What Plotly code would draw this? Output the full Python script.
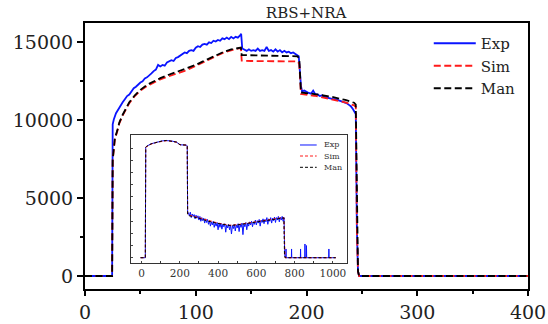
import plotly.graph_objects as go

# ---------------- main panel data ----------------
exp_x = [0, 24.5, 25, 26, 28, 30, 32, 34, 36, 38, 40, 42, 44, 46, 48, 50, 52, 54, 56, 58, 60,
         62, 64, 66, 68, 70, 72, 74, 76, 78, 80, 82, 84, 86, 88, 90, 92, 94, 96, 98, 100,
         102, 104, 106, 108, 110, 112, 114, 116, 118, 120, 122, 124, 126, 128, 130, 132, 134,
         136, 138, 140, 141, 142, 144, 146, 148, 150, 152, 154, 156, 158, 160, 162, 164, 166,
         168, 170, 172, 174, 176, 178, 180, 182, 184, 186, 188, 190, 192, 193, 195, 196, 198,
         200, 202, 204, 206, 208, 210, 212, 214, 216, 218, 220, 222, 224, 226, 228, 230, 232,
         234, 236, 238, 240, 242, 243.5, 244.5, 245.5, 246.5, 247.5, 400]
exp_y = [0, 0, 9740, 10050, 10450, 10700, 10900, 11150, 11350, 11550, 11650, 11850, 12050,
         12150, 12300, 12420, 12500, 12680, 12750, 12850, 13000, 13150, 13250, 13550, 13450,
         13550, 13500, 13700, 13750, 13850, 13800, 14000, 14050, 14150, 14250, 14350, 14300,
         14450, 14500, 14450, 14650, 14750, 14700, 14850, 14900, 14850, 15000, 14950, 15100,
         15050, 15150, 15100, 15250, 15200, 15300, 15200, 15350, 15250, 15350, 15300, 15450,
         15540, 14600, 14500, 14450, 14550, 14450, 14500, 14450, 14600, 14450, 14500, 14450,
         14700, 14450, 14500, 14400, 14550, 14400, 14500, 14350, 14450, 14350, 14400, 14300,
         14350, 14250, 14200, 14100, 12200, 11850, 11900, 11800, 11750, 11700, 11900, 11650,
         11650, 11550, 11600, 11500, 11450, 11450, 11400, 11350, 11350, 11300, 11250, 11250,
         11150, 11100, 11000, 10900, 10700, 10500, 10400, 3000, 300, 0, 0]

sim_x = [0, 24.5, 25, 26, 27, 29, 31, 34, 37, 40, 45, 50, 56, 62, 68, 75, 82, 90, 100, 106,
         113, 120, 126, 132, 138, 140.8, 141.5, 150, 170, 192, 193.5, 195, 207, 223, 235, 243,
         244.5, 245.5, 246.5, 247.5, 400]
sim_y = [0, 0, 7400, 8300, 8800, 9250, 9800, 10300, 10750, 11100, 11550, 11900, 12200, 12430,
         12620, 12800, 12980, 13170, 13480, 13700, 13930, 14170, 14370, 14500, 14600, 14620,
         13820, 13800, 13790, 13770, 13600, 11680, 11570, 11350, 11150, 10950, 10850, 3000,
         300, 0, 0]

man_x = sim_x
man_y = [0, 0, 7450, 8350, 8850, 9300, 9850, 10350, 10800, 11150, 11600, 11950, 12270, 12500,
         12700, 12900, 13080, 13270, 13550, 13760, 13980, 14220, 14410, 14540, 14640, 14660,
         14180, 14170, 14140, 14100, 13900, 11780, 11680, 11500, 11300, 11120, 11000, 3000,
         300, 0, 0]

# ---------------- inset data (arbitrary units) ----------------
in_sim_x = [-5, 20, 22, 27, 50, 80, 110, 131, 160, 184, 195, 201, 236, 239, 241, 250, 300, 350,
            400, 450, 462, 500, 550, 600, 650, 700, 732, 744, 747, 750, 1015]
in_sim_y = [0, 0, 9.1, 9.15, 9.35, 9.5, 9.6, 9.63, 9.58, 9.5, 9.35, 9.3, 9.27, 9.2, 3.6, 3.5,
            3.3, 3.05, 2.85, 2.7, 2.67, 2.72, 2.85, 3.0, 3.12, 3.22, 3.29, 3.3, 0.3, 0.0, 0]
in_man_x = in_sim_x
in_man_y = [0, 0, 9.1, 9.17, 9.37, 9.52, 9.62, 9.65, 9.6, 9.52, 9.37, 9.3, 9.27, 9.2, 3.55,
            3.45, 3.25, 3.0, 2.82, 2.68, 2.65, 2.7, 2.82, 2.97, 3.1, 3.2, 3.27, 3.28, 0.3, 0.0, 0]

in_exp_x = [-5, 20, 22, 27, 50, 80, 110, 131, 160, 184, 195, 201, 236, 239, 241,
            245, 250, 255, 260, 265, 270, 275, 280, 285, 290, 295, 300, 305, 310, 315, 320,
            325, 330, 335, 340, 345, 350, 355, 360, 365, 370, 375, 380, 385, 390, 395, 400,
            405, 410, 415, 420, 425, 430, 435, 440, 445, 450, 455, 460, 465, 470, 475, 480,
            485, 490, 495, 500, 505, 510, 515, 520, 525, 530, 535, 540, 545, 550, 555, 560,
            565, 570, 575, 580, 585, 590, 595, 600, 605, 610, 615, 620, 625, 630, 635, 640,
            645, 650, 655, 660, 665, 670, 675, 680, 685, 690, 695, 700, 705, 710, 715, 720,
            725, 730, 735, 740, 745, 748, 752,
            754, 755, 756, 783, 784, 785, 830, 831, 832, 853, 854, 855, 861, 862, 863,
            978, 979, 980, 1015]
in_exp_y = [0, 0, 9.1, 9.17, 9.38, 9.5, 9.62, 9.64, 9.6, 9.5, 9.36, 9.3, 9.26, 9.2, 3.7,
            3.7, 3.45, 3.75, 3.3, 3.6, 3.4, 3.55, 3.2, 3.5, 3.25, 3.45, 3.1, 3.4, 3.0, 3.3, 3.05,
            3.25, 2.85, 3.2, 2.9, 3.15, 2.75, 3.05, 2.6, 2.95, 2.7, 3.0, 2.5, 2.85, 2.6, 2.9, 2.3,
            2.8, 2.5, 2.85, 2.35, 2.75, 2.55, 2.8, 2.1, 2.7, 2.45, 2.75, 2.3, 2.7, 1.95, 2.65, 2.4,
            2.75, 2.2, 2.7, 2.45, 2.8, 2.15, 2.75, 2.5, 2.85, 1.9, 2.8, 2.55, 2.9, 2.3, 2.85, 2.6,
            2.95, 2.7, 3.0, 2.55, 2.95, 2.75, 3.1, 2.7, 3.05, 2.85, 3.15, 2.6, 3.1, 2.9, 3.2, 2.8,
            3.15, 2.95, 3.3, 2.75, 3.2, 3.0, 3.3, 2.85, 3.25, 3.05, 3.35, 2.9, 3.3, 3.1, 3.4, 2.95,
            3.35, 3.1, 3.4, 3.0, 3.3, 0.2, 0,
            0, 0.72, 0, 0, 0.72, 0, 0, 0.72, 0, 0, 1.13, 0, 0, 1.0, 0,
            0, 0.72, 0, 0]

x_ticks = [0, 100, 200, 300, 400]
y_ticks = [0, 5000, 10000, 15000]
in_x_ticks = [0, 200, 400, 600, 800, 1000]
in_y_ticks = [0, 1, 2, 3, 4, 5, 6, 7, 8, 9]
names = ["Exp", "Sim", "Man"]

BLUE, RED, BLACK = "#0a14ff", "#ff1a1a", "#000000"
FONT = "DejaVu Serif"

fig = go.Figure()
fig.add_trace(go.Scatter(x=exp_x, y=exp_y, mode="lines", name=names[0],
                         line=dict(color=BLUE, width=1.8), xaxis="x", yaxis="y"))
fig.add_trace(go.Scatter(x=sim_x, y=sim_y, mode="lines", name=names[1],
                         line=dict(color=RED, width=1.8, dash="7px,3.5px"), xaxis="x", yaxis="y"))
fig.add_trace(go.Scatter(x=man_x, y=man_y, mode="lines", name=names[2],
                         line=dict(color=BLACK, width=1.8, dash="7px,3.5px"), xaxis="x", yaxis="y"))

fig.add_trace(go.Scatter(x=in_exp_x, y=in_exp_y, mode="lines", showlegend=False,
                         line=dict(color=BLUE, width=1), xaxis="x2", yaxis="y2"))
fig.add_trace(go.Scatter(x=in_sim_x, y=in_sim_y, mode="lines", showlegend=False,
                         line=dict(color=RED, width=1, dash="3px,2px"), xaxis="x2", yaxis="y2"))
fig.add_trace(go.Scatter(x=in_man_x, y=in_man_y, mode="lines", showlegend=False,
                         line=dict(color=BLACK, width=1, dash="3px,2px"), xaxis="x2", yaxis="y2"))

main_axis = dict(showgrid=False, zeroline=False, showline=True, mirror=True,
                 linecolor="black", linewidth=2, ticks="outside", tickwidth=2,
                 tickcolor="black", tickfont=dict(family=FONT, size=19, color="#222"),
                 automargin=False)
fig.update_layout(
    width=548, height=324,
    margin=dict(l=85, r=20, t=23, b=35, autoexpand=False),
    paper_bgcolor="white", plot_bgcolor="white",
    title=dict(text="RBS+NRA", x=0.5585, xanchor="center", y=0.961, yanchor="middle",
               yref="container", font=dict(family=FONT, size=15, color="#222")),
    xaxis=dict(main_axis, range=[0, 400], tickvals=x_ticks,
               ticktext=[str(v) for v in x_ticks], ticklen=5,
               minor=dict(dtick=50, ticklen=3, tickwidth=2, tickcolor="black", ticks="outside")),
    yaxis=dict(main_axis, range=[-834, 16239], tickvals=y_ticks,
               ticktext=[str(v) for v in y_ticks], ticklen=6,
               minor=dict(tickvals=[2500, 7500, 12500], ticklen=3, tickwidth=2,
                          tickcolor="black", ticks="outside")),
    xaxis2=dict(domain=[0.1038, 0.5907], anchor="y2", range=[-55, 1072],
                showgrid=False, zeroline=False, showline=True, mirror=True,
                linecolor="#333", linewidth=1, ticks="inside", ticklen=2, tickwidth=1,
                tickvals=in_x_ticks, ticktext=[str(v) for v in in_x_ticks],
                tickfont=dict(family=FONT, size=10.5, color="#333"),
                minor=dict(tickvals=[100, 300, 500, 700, 900], ticks="inside", ticklen=2,
                           tickwidth=1, tickcolor="#333")),
    yaxis2=dict(domain=[0.0966, 0.5789], anchor="x2", range=[-0.46, 10.1],
                showgrid=False, zeroline=False, showline=True, mirror=True,
                linecolor="#333", linewidth=1, ticks="inside", ticklen=2, tickwidth=1,
                tickvals=in_y_ticks, showticklabels=False),
    legend=dict(x=0.776, y=0.985, xanchor="left", yanchor="top",
                font=dict(family=FONT, size=15, color="#222"), itemwidth=42,
                bgcolor="rgba(0,0,0,0)", borderwidth=0, tracegroupgap=4),
    showlegend=True,
)

# inset legend (key lines + labels)
leg_y = [0.5414, 0.5, 0.4575]
leg_style = [dict(color=BLUE, width=1), dict(color=RED, width=1, dash="3px,2px"),
             dict(color=BLACK, width=1, dash="3px,2px")]
for nm, yy, st in zip(names, leg_y, leg_style):
    fig.add_shape(type="line", xref="paper", yref="paper", x0=0.4853, x1=0.523,
                  y0=yy, y1=yy, line=st)
    fig.add_annotation(text=nm, xref="paper", yref="paper", x=0.5343, y=yy,
                       xanchor="left", yanchor="middle", showarrow=False,
                       font=dict(family=FONT, size=8, color="#333"))

fig.write_html("out.html")
